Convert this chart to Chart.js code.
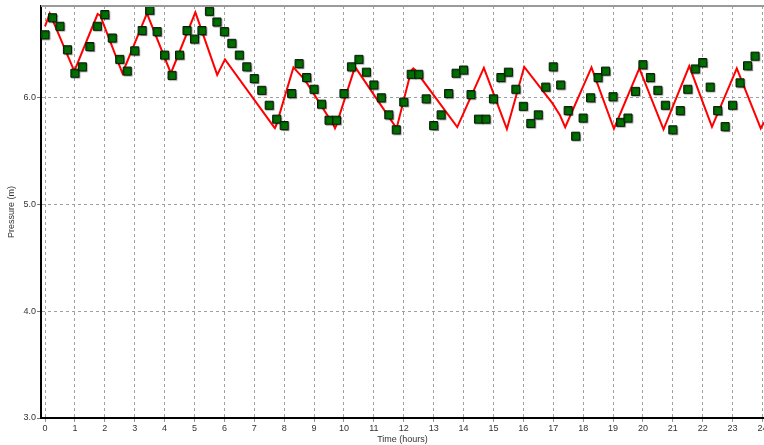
<!DOCTYPE html>
<html>
<head>
<meta charset="utf-8">
<script src="https://cdn.jsdelivr.net/npm/chart.js@4/dist/chart.umd.min.js"></script>
<style>
  html, body { margin: 0; padding: 0; background: #fff; }
  #wrap { width: 764px; height: 445px; }
</style>
</head>
<body>
<div id="wrap"><canvas id="c" width="764" height="445"></canvas></div>
<script>
// Simulated pressure (red line) vertices: time (hours) and pressure (m)
const simTime = [0, 0.16, 0.98, 1.76, 1.85, 2.59, 3.41, 4.21, 5.03, 5.76, 6.02, 7.65, 7.69, 7.73, 8.31, 8.70, 9.66, 9.70, 9.74, 10.37, 11.76, 12.25, 12.32, 12.38, 13.79, 14.68, 15.45, 16.03, 16.97, 17.22, 17.40, 18.28, 19.03, 19.88, 20.69, 21.55, 22.31, 23.14, 23.94, 24.05];
const simPressure = [6.67, 6.79, 6.25, 6.785, 6.77, 6.23, 6.79, 6.23, 6.80, 6.215, 6.36, 5.73, 5.716, 5.74, 6.285, 6.165, 5.74, 5.715, 5.74, 6.29, 5.713, 6.255, 6.275, 6.26, 5.725, 6.28, 5.707, 6.29, 5.95, 5.84, 5.725, 6.285, 5.71, 6.275, 5.704, 6.297, 5.728, 6.275, 5.713, 5.77];

// Observed pressure (green squares)
const obsTime = [0, 0.25, 0.5, 0.75, 1, 1.25, 1.5, 1.75, 2, 2.25, 2.5, 2.75, 3, 3.25, 3.5, 3.75,
  4, 4.25, 4.5, 4.75, 5, 5.25, 5.5, 5.75, 6, 6.25, 6.5, 6.75, 7, 7.25, 7.5, 7.75,
  8, 8.25, 8.5, 8.75, 9, 9.25, 9.5, 9.75, 10, 10.25, 10.5, 10.75, 11, 11.25, 11.5, 11.75,
  12, 12.25, 12.5, 12.75, 13, 13.25, 13.5, 13.75, 14, 14.25, 14.5, 14.75, 15, 15.25, 15.5, 15.75,
  16, 16.25, 16.5, 16.75, 17, 17.25, 17.5, 17.75, 18, 18.25, 18.5, 18.75, 19, 19.25, 19.5, 19.75,
  20, 20.25, 20.5, 20.75, 21, 21.25, 21.5, 21.75, 22, 22.25, 22.5, 22.75, 23, 23.25, 23.5, 23.75];
const obsPressure = [6.59, 6.75, 6.67, 6.45, 6.23, 6.29, 6.48, 6.67, 6.78, 6.56, 6.36, 6.25, 6.44, 6.63, 6.82, 6.62,
  6.40, 6.21, 6.40, 6.63, 6.55, 6.63, 6.81, 6.71, 6.62, 6.51, 6.40, 6.29, 6.18, 6.07, 5.93, 5.80,
  5.74, 6.04, 6.32, 6.19, 6.08, 5.94, 5.79, 5.79, 6.04, 6.29, 6.36, 6.24, 6.12, 6.00, 5.84, 5.70,
  5.96, 6.22, 6.22, 5.99, 5.74, 5.84, 6.04, 6.23, 6.26, 6.03, 5.80, 5.80, 5.99, 6.19, 6.24, 6.08,
  5.92, 5.76, 5.84, 6.10, 6.29, 6.12, 5.88, 5.64, 5.81, 6.00, 6.19, 6.25, 6.01, 5.77, 5.81, 6.06,
  6.31, 6.19, 6.07, 5.93, 5.70, 5.88, 6.08, 6.27, 6.33, 6.10, 5.88, 5.73, 5.93, 6.14, 6.30, 6.39];

const xTicks = [0,1,2,3,4,5,6,7,8,9,10,11,12,13,14,15,16,17,18,19,20,21,22,23,24];
const yTicks = [3.0, 4.0, 5.0, 6.0];

const xTitle = 'Time (hours)';
const yTitle = 'Pressure (m)';

const simData = simTime.map((t, i) => ({ x: t, y: simPressure[i] }));
const obsData = obsTime.map((t, i) => ({ x: t, y: obsPressure[i] }));

const FONT = { family: 'Liberation Sans', size: 9 };

const topBorder = {
  id: 'topBorder',
  afterDraw(chart) {
    const { ctx, chartArea } = chart;
    ctx.save();
    ctx.strokeStyle = '#9a9a9a';
    ctx.lineWidth = 2;
    ctx.beginPath();
    ctx.moveTo(chartArea.left, chartArea.top);
    ctx.lineTo(chartArea.right + 5, chartArea.top);
    ctx.stroke();
    ctx.restore();
  }
};

const markerShadow = {
  id: 'markerShadow',
  beforeDatasetDraw(chart, args) {
    if (args.index === 1) {
      const ctx = chart.ctx;
      ctx.save();
      ctx.shadowColor = 'rgba(0,0,0,0.35)';
      ctx.shadowOffsetX = 1;
      ctx.shadowOffsetY = 1;
      ctx.shadowBlur = 1;
    }
  },
  afterDatasetDraw(chart, args) {
    if (args.index === 1) chart.ctx.restore();
  }
};

new Chart(document.getElementById('c'), {
  type: 'scatter',
  data: {
    datasets: [
      {
        label: 'Simulated',
        data: simData,
        showLine: true,
        borderColor: '#ff0000',
        borderWidth: 2,
        pointRadius: 0,
        tension: 0,
        fill: false,
        order: 2
      },
      {
        label: 'Observed',
        data: obsData,
        showLine: false,
        pointStyle: 'rect',
        pointRadius: 5.7,
        pointBackgroundColor: '#007000',
        pointBorderColor: '#0a1a0a',
        pointBorderWidth: 1,
        order: 1
      }
    ]
  },
  options: {
    responsive: false,
    animation: false,
    devicePixelRatio: 1,
    layout: { autoPadding: false, padding: { top: 6, right: 0, left: 0, bottom: 0 } },
    plugins: { legend: { display: false }, tooltip: { enabled: false } },
    scales: {
      x: {
        type: 'linear',
        min: -0.134,
        max: 24.05,
        afterBuildTicks: (s) => { s.ticks = xTicks.map(v => ({ value: v })); },
        afterFit: (s) => { s.height = 27; s.paddingRight = 0; s.paddingLeft = 0; },
        ticks: {
          font: FONT, color: '#333', padding: 1, autoSkip: false, maxRotation: 0,
          callback: (v) => String(v)
        },
        grid: { color: '#a0a0a0', tickLength: 4, tickColor: '#999', drawOnChartArea: true },
        border: { color: '#000', width: 2, dash: [3, 3] },
        title: { display: true, text: xTitle, font: FONT, color: '#333', padding: { top: 0, bottom: 0 } }
      },
      y: {
        type: 'linear',
        min: 3.0,
        max: 6.86,
        afterBuildTicks: (s) => { s.ticks = yTicks.map(v => ({ value: v })); },
        afterFit: (s) => { s.width = 41; s.paddingTop = 0; s.paddingBottom = 0; },
        ticks: {
          font: FONT, color: '#333', padding: 1,
          callback: (v) => Number(v).toFixed(1)
        },
        grid: { color: '#a0a0a0', tickLength: 4, tickColor: '#777' },
        border: { color: '#000', width: 2, dash: [3, 3] },
        title: { display: true, text: yTitle, font: FONT, color: '#333', padding: { top: 6, bottom: 0 } }
      }
    }
  },
  plugins: [topBorder, markerShadow]
});
</script>
</body>
</html>
